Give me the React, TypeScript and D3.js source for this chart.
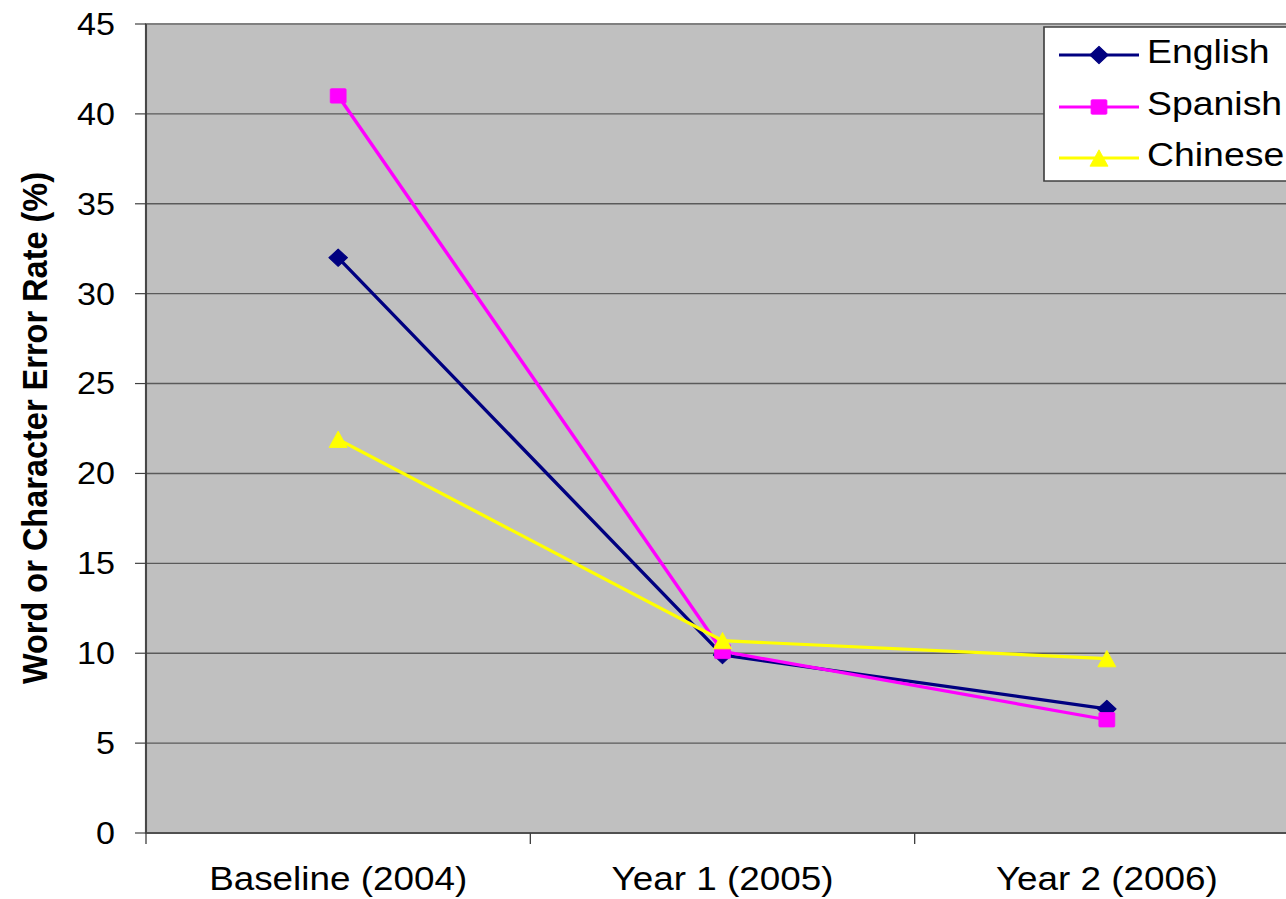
import React from "react";
import * as d3 from "d3";

// Error rates (%) per evaluation year
const categories = ["Baseline (2004)", "Year 1 (2005)", "Year 2 (2006)"];
const english = [32, 9.9, 6.9];
const spanish = [41, 10.1, 6.3];
const chinese = [21.9, 10.7, 9.7];
const yTicks = [0, 5, 10, 15, 20, 25, 30, 35, 40, 45];

const W = 1286;
const H = 899;
// the whole drawing is widened horizontally by this factor
const SX = 1.1;

const plot = { left: 146 / SX, right: 1299 / SX, top: 24, bottom: 833 };

type Series = { name: string; values: number[]; color: string; marker: "diamond" | "square" | "triangle" };
const series: Series[] = [
  { name: "English", values: english, color: "#000080", marker: "diamond" },
  { name: "Spanish", values: spanish, color: "#FF00FF", marker: "square" },
  { name: "Chinese", values: chinese, color: "#FFFF00", marker: "triangle" },
];

function Marker({ kind, x, y, color }: { kind: Series["marker"]; x: number; y: number; color: string }) {
  if (kind === "diamond") {
    const w = 8.4, h = 8.6;
    return <path d={`M${x},${y - h}L${x + w},${y}L${x},${y + h}L${x - w},${y}Z`} fill={color} stroke={color} strokeWidth={1} strokeLinejoin="round" />;
  }
  if (kind === "square") {
    const w = 7.2, h = 7.2;
    return <rect x={x - w} y={y - h} width={2 * w} height={2 * h} fill={color} stroke={color} strokeWidth={0.8} rx={1} />;
  }
  const w = 8.2, h = 8.2;
  return <path d={`M${x},${y - h}L${x + w},${y + h}L${x - w},${y + h}Z`} fill={color} stroke={color} strokeWidth={0.8} />;
}

export default function App() {
  const x = d3.scaleBand<string>().domain(categories).range([plot.left, plot.right]);
  const y = d3.scaleLinear().domain([0, 45]).range([plot.bottom, plot.top]);
  const cx = (c: string) => (x(c) as number) + x.bandwidth() / 2;

  const line = d3
    .line<number>()
    .x((_, i) => cx(categories[i]))
    .y((v) => y(v));

  const font = "'Liberation Sans', Arial, sans-serif";
  const legend = { x: 1044 / SX, y: 27, w: 260 / SX, h: 154, rowY: [55, 107, 158], lx1: 1059 / SX, lx2: 1139 / SX, tx: 1147 / SX };

  return (
    <svg width={W} height={H} style={{ position: "absolute", left: 0, top: 0, background: "#fff" }} fontFamily={font}>
      <rect width={W} height={H} fill="#fff" />
      <g transform={`scale(${SX},1)`}>
        {/* plot area */}
        <rect x={plot.left} y={plot.top} width={plot.right - plot.left} height={plot.bottom - plot.top} fill="#C0C0C0" stroke="#808080" strokeWidth={2} />
        {/* horizontal gridlines */}
        {yTicks.filter((t) => t > 0 && t < 45).map((t) => (
          <line key={t} x1={plot.left} x2={plot.right} y1={y(t)} y2={y(t)} stroke="#5a5a5a" strokeWidth={1.4} />
        ))}
        {/* value axis */}
        <line x1={plot.left} x2={plot.left} y1={plot.top} y2={plot.bottom} stroke="#404040" strokeWidth={1.6} />
        {yTicks.map((t) => (
          <g key={t}>
            <line x1={plot.left - 11 / SX} x2={plot.left} y1={y(t)} y2={y(t)} stroke="#404040" strokeWidth={1.2} />
            <text x={115 / SX} y={y(t)} dy="0.35em" textAnchor="end" fontSize={31} fill="#000">{t}</text>
          </g>
        ))}
        {/* category axis */}
        <line x1={plot.left} x2={plot.right} y1={plot.bottom} y2={plot.bottom} stroke="#404040" strokeWidth={1.6} />
        {categories.map((c) => (
          <g key={c}>
            <line x1={x(c)} x2={x(c)} y1={plot.bottom} y2={plot.bottom + 11} stroke="#404040" strokeWidth={1.2} />
            <text x={cx(c)} y={890} textAnchor="middle" fontSize={33.5} fill="#000">{c}</text>
          </g>
        ))}
        <text transform={`translate(${47 / SX},428) rotate(-90)`} textAnchor="middle" fontSize={32.5} fontWeight="bold" fill="#000">
          Word or Character Error Rate (%)
        </text>

        {/* series */}
        {series.map((s) => (
          <g key={s.name}>
            <path d={line(s.values) ?? ""} fill="none" stroke={s.color} strokeWidth={3.2} />
            {s.values.map((v, i) => (
              <Marker key={i} kind={s.marker} x={cx(categories[i])} y={y(v)} color={s.color} />
            ))}
          </g>
        ))}

        {/* legend */}
        <rect x={legend.x} y={legend.y} width={legend.w} height={legend.h} fill="#fff" stroke="#404040" strokeWidth={1.5} />
        {series.map((s, i) => (
          <g key={s.name}>
            <line x1={legend.lx1} x2={legend.lx2} y1={legend.rowY[i]} y2={legend.rowY[i]} stroke={s.color} strokeWidth={3.2} />
            <Marker kind={s.marker} x={(legend.lx1 + legend.lx2) / 2} y={legend.rowY[i]} color={s.color} />
            <text x={legend.tx} y={legend.rowY[i] + 8} fontSize={34} fill="#000">{s.name}</text>
          </g>
        ))}
      </g>
    </svg>
  );
}
